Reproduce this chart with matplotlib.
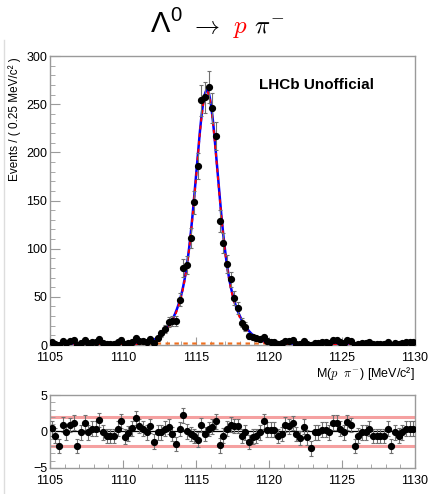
import numpy as np
import matplotlib
matplotlib.use("Agg")
import matplotlib.pyplot as plt
from matplotlib.ticker import MultipleLocator
from matplotlib.lines import Line2D

plt.rcParams['font.family'] = ['Liberation Sans', 'DejaVu Sans']

# ---- binning ----
x_min, x_max, n_bins = 1105.0, 1130.0, 100
bin_width = (x_max - x_min) / n_bins
bin_centers = x_min + bin_width * (np.arange(n_bins) + 0.5)

# ---- events per 0.25 MeV bin ----
counts = np.array([
    3, 1, 0, 4, 2, 4, 5, 0, 2, 5,
    2, 3, 3, 6, 2, 1, 1, 1, 3, 5,
    1, 2, 3, 7, 4, 4, 3, 6, 2, 7,
    12, 17, 24, 25, 25, 47, 80, 83, 111, 148,
    186, 254, 257, 268, 246, 217, 129, 106, 84, 68,
    49, 38, 23, 19, 9, 8, 7, 6, 8, 4,
    3, 3, 1, 2, 4, 4, 5, 1, 1, 4,
    1, 0, 2, 2, 3, 3, 2, 5, 5, 3,
    2, 5, 4, 0, 1, 2, 2, 3, 1, 1,
    1, 1, 3, 0, 2, 1, 2, 3, 3, 3,
], dtype=float)

# ---- pulls per bin ----
pulls = np.array([
    0.45, -0.55, -2.0, 0.95, -0.1, 0.9, 1.2, -2.0, -0.1, 1.2,
    -0.1, 0.4, 0.4, 1.55, -0.1, -0.6, -0.6, -0.6, 0.4, 1.45,
    -0.7, -0.25, 0.45, 1.85, 0.75, 0.4, -0.1, 0.75, -1.4, -0.1,
    -0.1, 0.4, 0.65, -0.35, -1.7, 0.35, 2.2, 0.0, -0.35, -0.6,
    -1.1, 0.9, -0.35, 0.35, 0.65, 1.4, -1.9, -0.55, 0.4, 0.95,
    0.75, 0.75, -0.6, -0.1, -1.45, -0.7, -0.6, -0.1, 1.4, 0.25,
    0.25, 0.25, -0.6, -0.35, 0.95, 0.7, 1.15, -0.35, -0.9, 0.65,
    -0.8, -2.3, -0.1, -0.1, 0.25, 0.25, -0.1, 1.2, 1.2, 0.4,
    -0.1, 1.25, 0.9, -2.0, -0.55, -0.1, -0.1, 0.4, -0.6, -0.6,
    -0.6, -0.6, 0.4, -2.0, -0.1, -0.55, -0.1, 0.4, 0.4, 0.4,
])

# ---- fit model: double Gaussian signal + flat background (events per bin) ----
mass_mean = 1115.75
narrow_height, narrow_sigma = 170.0, 0.68
wide_height, wide_sigma = 93.0, 1.45
bkg_level = 1.5


def signal_pdf(m):
    return (narrow_height * np.exp(-0.5 * ((m - mass_mean) / narrow_sigma) ** 2)
            + wide_height * np.exp(-0.5 * ((m - mass_mean) / wide_sigma) ** 2))


W, H = 446, 494
fig = plt.figure(figsize=(W / 100, H / 100), dpi=100)

ax = fig.add_axes([50 / W, 1 - 345 / H, 365 / W, 289 / H])
rax = fig.add_axes([50 / W, 1 - 468 / H, 365 / W, 73 / H])

frame_col = '#9a9a9a'
for a in (ax, rax):
    for s in a.spines.values():
        s.set_color(frame_col)
        s.set_linewidth(1.0)
    a.set_xlim(x_min, x_max)
    a.xaxis.set_major_locator(MultipleLocator(5))
    a.xaxis.set_minor_locator(MultipleLocator(1))
    a.tick_params(axis='both', which='both', direction='in', color=frame_col,
                  top=False, right=False, labelsize=9)
    a.tick_params(axis='x', which='major', length=6, pad=5)
    a.tick_params(axis='x', which='minor', length=3)
    a.tick_params(axis='y', which='major', length=7, pad=2)
    a.tick_params(axis='y', which='minor', length=3.5)

# ---- main panel ----
ax.set_ylim(0, 300)
ax.yaxis.set_major_locator(MultipleLocator(50))
ax.yaxis.set_minor_locator(MultipleLocator(10))

xs = np.linspace(x_min, x_max, 1501)
ax.plot(xs, np.full_like(xs, bkg_level), color='#f07020', lw=1.6,
        dashes=(2, 2), zorder=2)
ax.plot(xs, signal_pdf(xs) + bkg_level, color='#0000ff', lw=1.8, zorder=3)
ax.plot(xs, signal_pdf(xs), color='#ff0000', lw=1.4, dashes=(2, 2), zorder=4)

err_lo = np.sqrt(counts)
err_hi = np.where(counts > 0, np.sqrt(counts), 1.15)
ax.errorbar(bin_centers, counts, yerr=[err_lo, err_hi], fmt='o', color='black',
            ms=4.2, ecolor='#707070', elinewidth=0.8, capsize=1.5,
            capthick=0.8, zorder=5)

ax.text((259 - 50) / 365, 1 - (85 - 56) / 289,
        'LHCb Unofficial', transform=ax.transAxes, fontsize=11,
        fontweight='bold', ha='left', va='center')

fig.text(415 / W, 1 - 365 / H, r'M($p$  $\pi^{-}$) [MeV/c²]', fontsize=9,
         ha='right', va='top', math_fontfamily='cm')
fig.text(15 / W, 1 - 57 / H, 'Events / ( 0.25 MeV/c² )', fontsize=8.5,
         rotation=90, ha='center', va='top')

# ---- pull panel ----
rax.set_ylim(-5, 5)
rax.yaxis.set_major_locator(MultipleLocator(5))
rax.yaxis.set_minor_locator(MultipleLocator(1))
for lvl in (2, -2):
    rax.axhline(lvl, color='#f5a0a0', lw=2.2, zorder=1)
rax.axhline(0, color='black', lw=0.9, zorder=2)
rax.errorbar(bin_centers, pulls, yerr=1.0, fmt='o', color='black', ms=4.2,
             ecolor='#707070', elinewidth=0.8, capsize=1.5, capthick=0.8,
             zorder=5)

# ---- title: Lambda0 -> p pi- with the proton in red ----
renderer = fig.canvas.get_renderer()
y_base = 1 - 33 / H
x_cur = 150 / W
pieces = [
    ('Λ$^{\\mathregular{0}}$', 'black', 21),
    (' $\\rightarrow$  ', 'black', 18),
    ('$p$', 'red', 18),
    (' $\\pi^{-}$', 'black', 18),
]
for txt, col, size in pieces:
    t = fig.text(x_cur, y_base, txt, fontsize=size, color=col, ha='left',
                 va='baseline', math_fontfamily='cm')
    bb = t.get_window_extent(renderer=renderer)
    x_cur = bb.x1 / W

# thin canvas border line on the left
fig.add_artist(Line2D([4 / W, 4 / W], [0, 1 - 40 / H], color='#dddddd',
                      lw=1.0, transform=fig.transFigure))

fig.savefig('out.png', dpi=100)
